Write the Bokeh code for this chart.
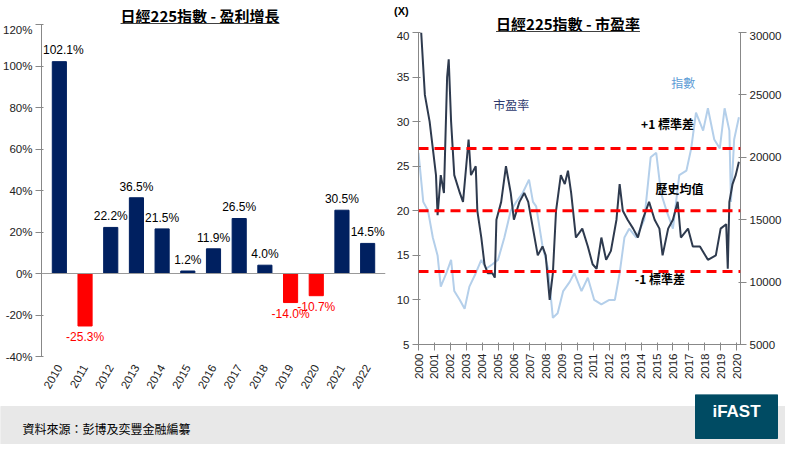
from bokeh.plotting import figure
from bokeh.models import Range1d, LinearAxis, Span, Label, FixedTicker, ColumnDataSource, Div, FactorRange
from bokeh.layouts import column, row
from bokeh.embed import file_html
from bokeh.resources import INLINE
from bokeh.core.properties import value

CJK = "Noto Sans CJK TC"
SANS = "Liberation Sans"

# earnings growth
years = [str(y) for y in range(2010, 2023)]
growth = [102.1, -25.3, 22.2, 36.5, 21.5, 1.2, 11.9, 26.5, 4.0, -14.0, -10.7, 30.5, 14.5]

# PE ratio (fractional year, value)
pe_t = [2000.17, 2000.4, 2000.7, 2000.9, 2001.1, 2001.2, 2001.4, 2001.6, 2001.8, 2001.9,
        2002.05, 2002.25, 2002.6, 2002.8, 2003.0, 2003.15, 2003.3, 2003.6, 2003.7, 2003.95,
        2004.15, 2004.35, 2004.65, 2004.8, 2004.9, 2005.2, 2005.5, 2005.8, 2006.0, 2006.35,
        2006.65, 2006.9, 2007.2, 2007.5, 2007.8, 2008.0, 2008.25, 2008.45, 2008.65, 2008.95,
        2009.2, 2009.4, 2009.6, 2009.9, 2010.3, 2010.65, 2010.95, 2011.2, 2011.5, 2011.8,
        2012.1, 2012.45, 2012.65, 2012.85, 2013.15, 2013.5, 2013.8, 2014.1, 2014.5, 2014.85,
        2015.15, 2015.35, 2015.7, 2016.0, 2016.3, 2016.5, 2016.95, 2017.25, 2017.7, 2018.2,
        2018.7, 2019.0, 2019.35, 2019.45, 2019.55, 2019.75, 2019.95, 2020.15]
pe = [40, 33, 30, 27, 24, 19.5, 24, 22, 35, 37,
      30, 24, 22, 21, 25, 28, 24, 25, 20, 17,
      14, 13, 13, 12.5, 19, 21, 25, 22, 19, 21,
      22, 21, 18, 15, 16, 15, 10, 13, 20, 24,
      23, 24.5, 22, 17, 18, 16, 14, 13.5, 17, 14.5,
      15.5, 19, 23, 20, 19, 18, 17, 19, 21, 19,
      18, 15, 18, 19, 21, 17, 18, 16, 16, 14.5,
      15, 18, 18.5, 13.5, 21, 23, 24, 25.5]

# Nikkei 225 index
idx_t = [2000.0, 2000.3, 2000.6, 2000.9, 2001.2, 2001.4, 2001.75, 2002.05, 2002.25, 2002.6,
         2002.9, 2003.2, 2003.6, 2003.95, 2004.25, 2004.65, 2005.0, 2005.4, 2005.8, 2006.15,
         2006.55, 2006.95, 2007.2, 2007.4, 2007.8, 2008.15, 2008.45, 2008.75, 2009.1, 2009.5,
         2009.8, 2010.25, 2010.65, 2011.05, 2011.5, 2012.0, 2012.35, 2012.65, 2012.95, 2013.25,
         2013.7, 2014.2, 2014.6, 2014.95, 2015.25, 2015.6, 2016.0, 2016.4, 2016.85, 2017.15,
         2017.45, 2017.9, 2018.2, 2018.6, 2018.95, 2019.25, 2019.55, 2019.65, 2019.85, 2020.15]
idx = [20360, 16430, 15710, 13570, 12140, 9640, 10710, 11780, 9280, 8570,
       7860, 9640, 10710, 11780, 11070, 11430, 11780, 13570, 15710, 16430,
       17140, 18210, 16430, 16070, 12860, 11070, 7140, 7500, 9280, 10000,
       10710, 9280, 10350, 8570, 8210, 8570, 8570, 10710, 13570, 14280,
       13570, 15000, 20000, 20360, 17140, 15710, 14280, 18570, 18930, 20710,
       23570, 22140, 23930, 21430, 20710, 23930, 22140, 16430, 21430, 23210]

pe_levels = [27.0, 20.0, 13.2]
year_ticks = list(range(2000, 2021))

TOTAL = 394      # height of each panel (title strip + figure)
LTH = 23         # left title strip
RTH = 31         # right title strip


def style_axes(p):
    for ax in p.axis:
        ax.major_label_text_font = SANS
        ax.major_label_text_font_size = "11.5px"
        ax.major_label_text_color = "#222222"
        ax.axis_line_color = "#888888"
        ax.major_tick_line_color = "#888888"
        ax.minor_tick_line_color = None
        ax.major_label_standoff = 3


def title_div(text, width, height, cx, top, extra=""):
    html = ('<div style="position:relative;width:%dpx;height:%dpx;">%s'
            '<div style="position:absolute;left:%dpx;top:%dpx;transform:translateX(-50%%);'
            'white-space:nowrap;font-family:\'%s\';font-size:15px;font-weight:bold;'
            'text-decoration:underline;color:#000;">%s</div></div>') % (width, height, extra, cx, top, CJK, text)
    return Div(text=html, width=width, height=height, margin=0)


# ---- left: earnings growth bars
left = figure(width=393, height=TOTAL - LTH, x_range=FactorRange(*years, range_padding=0.03),
              y_range=Range1d(-40, 120),
              output_backend="svg", toolbar_location=None,
              min_border_left=37, min_border_right=8, min_border_top=1, min_border_bottom=38)
left.outline_line_color = None
left.grid.grid_line_color = None
src = ColumnDataSource(dict(x=years, top=growth,
                            color=["#002060" if g >= 0 else "#FF0000" for g in growth]))
left.vbar(x="x", top="top", bottom=0, width=0.55, color="color", source=src)
for i, g in enumerate(growth):
    left.add_layout(Label(x=i + 0.5, y=g + 2 if g >= 0 else g - 2,
                          x_offset=4 if i == 0 else 0,
                          text="%.1f%%" % g, text_align="center",
                          text_baseline="bottom" if g >= 0 else "top",
                          text_color="#000000" if g >= 0 else "#FF0000",
                          text_font=SANS, text_font_size="12px"))
left.add_layout(Span(location=0, dimension="width", line_color="#999999", line_width=1))
left.yaxis.ticker = FixedTicker(ticks=list(range(-40, 121, 20)))
left.yaxis.major_label_overrides = {t: "%d%%" % t for t in range(-40, 121, 20)}
left.xaxis.major_label_orientation = 1.05
style_axes(left)
left.xaxis.axis_line_color = None
left.xaxis.major_tick_line_color = None

# ---- right: PE ratio and index
right = figure(width=392, height=TOTAL - RTH, x_range=Range1d(2000, 2020.25), y_range=Range1d(5, 40),
               output_backend="svg", toolbar_location=None,
               min_border_left=21, min_border_right=45, min_border_top=1, min_border_bottom=50)
right.outline_line_color = None
right.grid.grid_line_color = None
right.extra_y_ranges = {"idx": Range1d(5000, 30000)}
right.add_layout(LinearAxis(y_range_name="idx", ticker=FixedTicker(ticks=list(range(5000, 30001, 5000)))), "right")
right.line(idx_t, idx, y_range_name="idx", line_color="#B4CFEA", line_width=2)
right.line(pe_t, pe, line_color="#2E3A4E", line_width=2)
for lv in pe_levels:
    right.add_layout(Span(location=lv, dimension="width", line_color="#FF0000",
                          line_width=3, line_dash="10 6"))
right.yaxis[0].ticker = FixedTicker(ticks=list(range(5, 41, 5)))
right.xaxis.ticker = FixedTicker(ticks=year_ticks)
right.xaxis.major_label_orientation = 1.5708
style_axes(right)

for txt, x, y, c, bold in [("市盈率", 2004.7, 31.0, "#2E3A6E", False),
                           ("指數", 2015.9, 33.4, "#5B9BD5", False),
                           ("+1 標準差", 2014.0, 28.8, "#000000", True),
                           ("歷史均值", 2014.9, 21.5, "#000000", True),
                           ("-1 標準差", 2013.6, 11.5, "#000000", True)]:
    right.add_layout(Label(x=x, y=y, text=txt, text_color=c, text_font=CJK,
                           text_font_size="12px", text_font_style="bold" if bold else "normal"))

xlab = ('<div style="position:absolute;left:1px;top:4px;font-family:\'%s\';'
        'font-size:11px;font-weight:bold;">(X)</div>') % SANS
left_title = title_div("日經225指數 - 盈利增長", 393, LTH, 200, 5)
right_title = title_div("日經225指數 - 市盈率", 392, RTH, 175, 13, xlab)

# ---- footer
FH = 50
foot = figure(width=785, height=FH, x_range=Range1d(0, 785), y_range=Range1d(0, FH),
              output_backend="svg", toolbar_location=None,
              min_border=0, outline_line_color=None)
foot.axis.visible = False
foot.grid.grid_line_color = None
foot.quad(left=[0], right=[785], bottom=[0], top=[FH - 12], color="#E8E8E8")
foot.quad(left=[695], right=[777], bottom=[6], top=[FH], color="#004B63")
foot.text(x=[736], y=[33], text=["iFAST"], text_color="white", text_align="center",
          text_baseline="middle", text_font=value(SANS), text_font_size="17px",
          text_font_style="bold")
foot.text(x=[22], y=[16], text=["資料來源：彭博及奕豐金融編纂"], text_color="black",
          text_baseline="middle", text_font=value(CJK), text_font_size="12px")

p = column(row(column(left_title, left, spacing=0), column(right_title, right, spacing=0)), foot)
open("out.html", "w").write(file_html(p, INLINE))
